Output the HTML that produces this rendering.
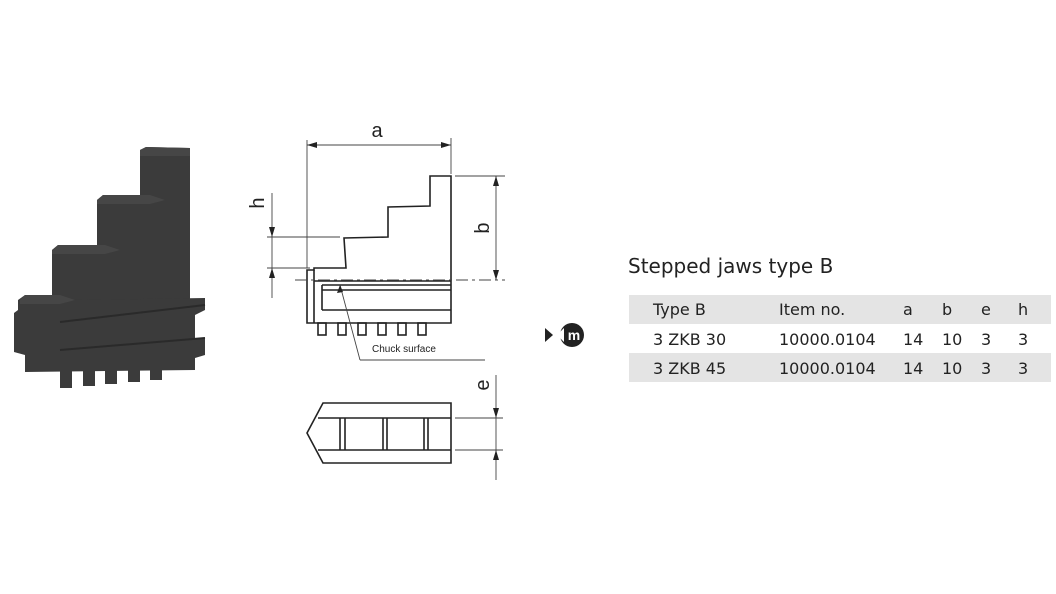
<!DOCTYPE html>
<html><head><meta charset="utf-8"><style>
body{margin:0;width:1056px;height:594px;background:#fff;position:relative;overflow:hidden;font-family:"Liberation Sans",sans-serif}
.t{position:absolute;font-family:"DejaVu Sans","Liberation Sans",sans-serif;color:#222}
</style></head><body>
<svg width="1056" height="594" style="position:absolute;left:0;top:0">
<!-- 3D jaw -->
<g fill="#3b3b3b">
<polygon points="140,150 146,147 190,148 190,300 140,300"/>
<polygon points="97,200 103,195 150,195 165,200 165,300 97,300"/>
<polygon points="52,250 58,245 105,245 120,250 120,300 52,300"/>
<polygon points="18,300 25,295 60,295 75,300 205,298 205,310 195,315 195,338 205,338 205,355 195,358 195,370 25,372 25,355 14,352 14,313 18,310"/>
<rect x="60" y="368" width="12" height="20"/><rect x="83" y="368" width="12" height="18"/><rect x="105" y="368" width="12" height="16"/><rect x="128" y="368" width="12" height="14"/><rect x="150" y="368" width="12" height="12"/>
</g>
<g fill="#464646"><polygon points="140,150 146,147 190,148 190,156 140,156"/><polygon points="97,200 103,195 150,195 165,200 150,204 97,204"/><polygon points="52,250 58,245 105,245 120,250 105,254 52,254"/><polygon points="20,300 25,295 60,295 75,300 60,304 20,304"/></g>
<g stroke="#2a2a2a" stroke-width="2" fill="none"><line x1="60" y1="322" x2="205" y2="305"/><line x1="60" y1="350" x2="205" y2="338"/></g>
<!-- drawing -->
<g stroke="#222" stroke-width="1.6" fill="none">
<path d="M430,176 L451,176 L451,323 L307,323 L307,270 L314,270 L314,268 L346,268 L344,238 L388,237 L388,207 L430,206 Z"/>
<line x1="314" y1="281" x2="451" y2="281"/>
<line x1="322" y1="285" x2="451" y2="285"/>
<line x1="322" y1="290" x2="451" y2="290"/>
<line x1="322" y1="310" x2="451" y2="310"/>
<line x1="322" y1="285" x2="322" y2="310"/>
<line x1="314" y1="270" x2="314" y2="323"/>
<g><rect x="318" y="323" width="8" height="12"/><rect x="338" y="323" width="8" height="12"/><rect x="358" y="323" width="8" height="12"/><rect x="378" y="323" width="8" height="12"/><rect x="398" y="323" width="8" height="12"/><rect x="418" y="323" width="8" height="12"/></g>
<path d="M323,403 L451,403 L451,463 L323,463 L307,433 Z"/>
<line x1="318" y1="418" x2="451" y2="418"/><line x1="318" y1="450" x2="451" y2="450"/>
<line x1="340" y1="418" x2="340" y2="450"/><line x1="345" y1="418" x2="345" y2="450"/>
<line x1="383" y1="418" x2="383" y2="450"/><line x1="387" y1="418" x2="387" y2="450"/>
<line x1="424" y1="418" x2="424" y2="450"/><line x1="428" y1="418" x2="428" y2="450"/>
</g>
<g stroke="#444" stroke-width="0.9" fill="none">
<line x1="307" y1="140" x2="307" y2="268"/><line x1="451" y1="138" x2="451" y2="174"/>
<line x1="307" y1="145" x2="451" y2="145"/>
<line x1="455" y1="176" x2="505" y2="176"/><line x1="496" y1="176" x2="496" y2="280"/>
<line x1="295" y1="280" x2="505" y2="280" stroke-dasharray="12,4,3,4"/>
<line x1="267" y1="237" x2="340" y2="237"/><line x1="267" y1="268" x2="310" y2="268"/>
<line x1="272" y1="193" x2="272" y2="298"/>
<line x1="340" y1="285" x2="360" y2="360"/><line x1="360" y1="360" x2="485" y2="360"/>
<line x1="455" y1="418" x2="503" y2="418"/><line x1="455" y1="450" x2="503" y2="450"/>
<line x1="496" y1="375" x2="496" y2="480"/>
</g>
<g fill="#222">
<polygon points="307,145 317,142 317,148"/><polygon points="451,145 441,142 441,148"/>
<polygon points="496,176 493,186 499,186"/><polygon points="496,280 493,270 499,270"/>
<polygon points="272,237 269,227 275,227"/><polygon points="272,268 269,278 275,278"/>
<polygon points="496,418 493,408 499,408"/><polygon points="496,450 493,460 499,460"/>
<polygon points="340,285 337,293 343,292"/>
<polygon points="545,328 553,335 545,342"/>
<circle cx="572" cy="335" r="12"/>
</g>
<polygon points="557,335 564,328 564,342" fill="#fff"/>
<text x="574" y="340" font-family="Liberation Sans" font-size="14" font-weight="bold" fill="#fff" text-anchor="middle">m</text>
<text x="377" y="137" font-family="Liberation Sans" font-size="20" fill="#222" text-anchor="middle">a</text>
<text transform="translate(264,203) rotate(-90)" font-family="Liberation Sans" font-size="20" fill="#222" text-anchor="middle">h</text>
<text transform="translate(489,228) rotate(-90)" font-family="Liberation Sans" font-size="20" fill="#222" text-anchor="middle">b</text>
<text transform="translate(489,385) rotate(-90)" font-family="Liberation Sans" font-size="20" fill="#222" text-anchor="middle">e</text>
<text x="372" y="352" font-family="Liberation Sans" font-size="10" fill="#222">Chuck surface</text>
<!-- table -->
<rect x="629" y="295" width="422" height="29" fill="#e4e4e4"/>
<rect x="629" y="353" width="422" height="29" fill="#e4e4e4"/>
</svg>
<div class="t" style="left:628px;top:254px;font-size:20px">Stepped jaws type B</div>
<div class="t" style="left:0;top:300px;font-size:16px;width:1056px;height:90px">
<div style="position:absolute;top:0;left:653px">Type B</div><div style="position:absolute;top:0;left:779px">Item no.</div><div style="position:absolute;top:0;left:903px">a</div><div style="position:absolute;top:0;left:942px">b</div><div style="position:absolute;top:0;left:981px">e</div><div style="position:absolute;top:0;left:1018px">h</div>
<div style="position:absolute;top:30px;left:653px">3 ZKB 30</div><div style="position:absolute;top:30px;left:779px">10000.0104</div><div style="position:absolute;top:30px;left:903px">14</div><div style="position:absolute;top:30px;left:942px">10</div><div style="position:absolute;top:30px;left:981px">3</div><div style="position:absolute;top:30px;left:1018px">3</div>
<div style="position:absolute;top:59px;left:653px">3 ZKB 45</div><div style="position:absolute;top:59px;left:779px">10000.0104</div><div style="position:absolute;top:59px;left:903px">14</div><div style="position:absolute;top:59px;left:942px">10</div><div style="position:absolute;top:59px;left:981px">3</div><div style="position:absolute;top:59px;left:1018px">3</div>
</div>
</body></html>
